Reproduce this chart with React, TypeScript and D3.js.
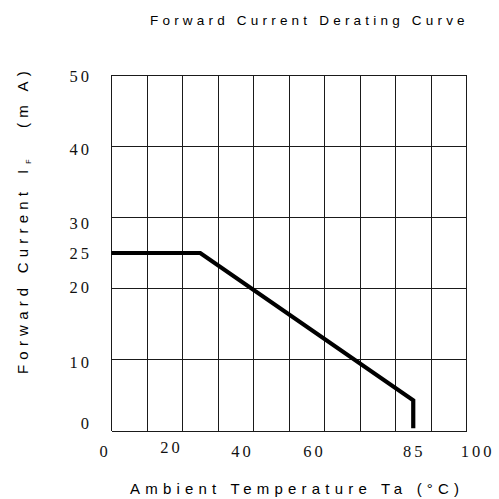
import React from "react";
import * as d3 from "d3";

// Derating curve: forward current (mA) vs ambient temperature (°C)
const curveTemp = [0, 25, 85, 85];
const curveCurrent = [25, 25, 4.3, 0.4];

// Grid / axis values
const xGridValues = [0, 10, 20, 30, 40, 50, 60, 70, 80, 90, 100];
const yGridValues = [0, 10, 20, 30, 40, 50];

// Tick labels as printed on the sheet
const xTickValues = [0, 20, 40, 60, 85, 100];
const xTickLabels = ["0", "20", "40", "60", "85", "100"];
const yTickValues = [50, 40, 30, 25, 20, 10, 0];
const yTickLabels = ["50", "40", "30", "25", "20", "10", "0"];

const titleText = "Forward Current Derating Curve";
const xTitleText = "Ambient Temperature Ta (°C)";
const yTitleMain = "Forward Current";
const yTitleSymbol = "I";
const yTitleSub = "F";
const yTitleUnit = "(m A)";

const W = 499;
const H = 499;
const plot = { left: 111.5, right: 466.5, top: 75, bottom: 431 };

// small hand-placement nudges of the printed labels (px)
const xLabelNudge = [-6.5, -11, -11, -10, 1, 11];
const xLabelBaseNudge = [0, -4, 0, 0, 0, 0];
const yLabelNudge = [1, 3, 6, 0, -1, 2, -8];

export default function App() {
  const x = d3.scaleLinear().domain([0, 100]).range([plot.left, plot.right]);
  const y = d3.scaleLinear().domain([0, 50]).range([plot.bottom, plot.top]);

  const pts: [number, number][] = curveTemp.map((t, i) => [t, curveCurrent[i]]);
  const line = d3
    .line<[number, number]>()
    .x((d) => x(d[0]))
    .y((d) => y(d[1]));

  const serif = "'Liberation Serif', 'Times New Roman', serif";
  const sans = "'Liberation Sans', Arial, sans-serif";
  const axisTitleSize = 15;
  const axisTitleSpacing = 5.2;

  return (
    <svg
      width={W}
      height={H}
      viewBox={`0 0 ${W} ${H}`}
      style={{ position: "absolute", left: 0, top: 0, background: "#fff" }}
    >
      <rect x={0} y={0} width={W} height={H} fill="#fff" />

      {/* title */}
      <text
        x={150}
        y={25}
        textAnchor="start"
        fontFamily={sans}
        fontSize={13.5}
        letterSpacing={4.2}
        fill="#000"
      >
        {titleText}
      </text>

      {/* grid */}
      <g stroke="#1a1a1a" strokeWidth={1} shapeRendering="crispEdges">
        {xGridValues.map((v) => (
          <line key={"vx" + v} x1={x(v)} x2={x(v)} y1={y(0)} y2={y(50)} />
        ))}
        {yGridValues.map((v) => (
          <line key={"hy" + v} x1={x(0)} x2={x(100)} y1={y(v)} y2={y(v)} />
        ))}
      </g>

      {/* derating curve */}
      <path
        d={line(pts) ?? ""}
        fill="none"
        stroke="#000"
        strokeWidth={4.2}
        strokeLinejoin="miter"
        strokeLinecap="butt"
      />

      {/* x tick labels */}
      {xTickValues.map((v, i) => (
        <text
          key={"xt" + v}
          x={x(v) + xLabelNudge[i]}
          y={457 + xLabelBaseNudge[i]}
          textAnchor="middle"
          fontFamily={serif}
          fontSize={16.5}
          letterSpacing={3}
          fill="#111"
        >
          {xTickLabels[i]}
        </text>
      ))}

      {/* y tick labels */}
      {yTickValues.map((v, i) => (
        <text
          key={"yt" + v}
          x={92}
          y={y(v) + yLabelNudge[i]}
          dy="0.35em"
          textAnchor="end"
          fontFamily={serif}
          fontSize={16.5}
          letterSpacing={3}
          fill="#111"
        >
          {yTickLabels[i]}
        </text>
      ))}

      {/* x axis title */}
      <text
        x={130}
        y={494}
        textAnchor="start"
        fontFamily={sans}
        fontSize={axisTitleSize}
        letterSpacing={axisTitleSpacing}
        fill="#000"
      >
        {xTitleText}
      </text>

      {/* y axis title (rotated) */}
      <g
        transform="translate(28, 0) rotate(-90)"
        fontFamily={sans}
        fontSize={axisTitleSize}
        letterSpacing={axisTitleSpacing}
        fill="#000"
      >
        <text x={-374} y={0}>
          {yTitleMain}
        </text>
        <text x={-174} y={0}>
          <tspan>{yTitleSymbol}</tspan>
          <tspan fontSize={7} letterSpacing={0} dx={1} dy={3}>
            {yTitleSub}
          </tspan>
        </text>
        <text x={-128} y={0}>
          {yTitleUnit}
        </text>
      </g>
    </svg>
  );
}
